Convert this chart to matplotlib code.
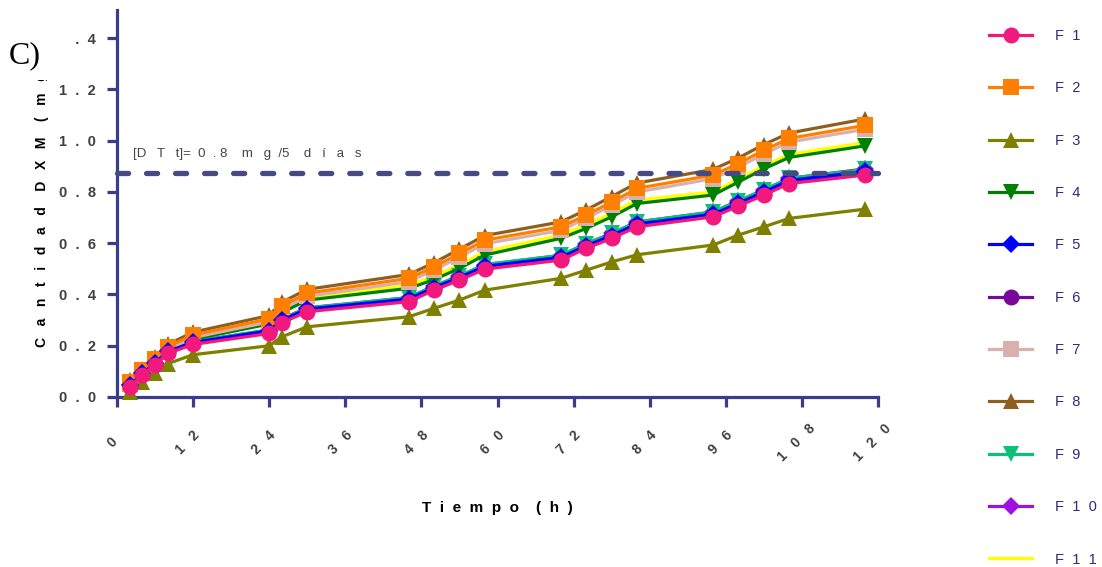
import matplotlib
matplotlib.use("Agg")
import matplotlib.pyplot as plt
from matplotlib.transforms import ScaledTranslation
from matplotlib.patches import Rectangle

# tiempo de muestreo (h)
tiempo = [2, 4, 6, 8, 12, 24, 26, 30, 46, 50, 54, 58, 70, 74, 78, 82, 94, 98, 102, 106, 118]

F1 = [0.040, 0.086, 0.125, 0.170, 0.205, 0.248, 0.290, 0.333, 0.372, 0.417, 0.456, 0.499, 0.534, 0.580, 0.619, 0.664, 0.703, 0.745, 0.788, 0.833, 0.866]
F2 = [0.060, 0.105, 0.150, 0.196, 0.242, 0.305, 0.355, 0.405, 0.463, 0.508, 0.560, 0.612, 0.664, 0.710, 0.761, 0.814, 0.866, 0.911, 0.963, 1.009, 1.060]
F3 = [0.020, 0.060, 0.095, 0.130, 0.165, 0.200, 0.235, 0.274, 0.313, 0.346, 0.378, 0.417, 0.463, 0.495, 0.527, 0.555, 0.593, 0.632, 0.664, 0.697, 0.733]
F4 = [0.050, 0.095, 0.140, 0.185, 0.225, 0.285, 0.330, 0.378, 0.424, 0.458, 0.502, 0.554, 0.619, 0.658, 0.703, 0.755, 0.788, 0.839, 0.890, 0.935, 0.980]
F5 = [0.045, 0.092, 0.132, 0.178, 0.213, 0.258, 0.300, 0.343, 0.382, 0.427, 0.466, 0.510, 0.545, 0.590, 0.630, 0.675, 0.713, 0.756, 0.800, 0.845, 0.880]
F6 = [0.042, 0.089, 0.128, 0.174, 0.209, 0.253, 0.295, 0.338, 0.377, 0.422, 0.461, 0.504, 0.540, 0.585, 0.625, 0.670, 0.708, 0.750, 0.793, 0.838, 0.872]
F7 = [0.052, 0.095, 0.140, 0.185, 0.232, 0.293, 0.343, 0.393, 0.450, 0.495, 0.546, 0.598, 0.650, 0.697, 0.748, 0.800, 0.852, 0.897, 0.948, 0.995, 1.045]
F8 = [0.065, 0.110, 0.158, 0.205, 0.253, 0.318, 0.370, 0.420, 0.478, 0.524, 0.577, 0.630, 0.683, 0.730, 0.782, 0.835, 0.888, 0.933, 0.985, 1.030, 1.085]
F9 = [0.046, 0.093, 0.133, 0.179, 0.215, 0.261, 0.304, 0.347, 0.388, 0.433, 0.472, 0.517, 0.553, 0.598, 0.638, 0.683, 0.722, 0.765, 0.808, 0.853, 0.888]
F10 = [0.047, 0.094, 0.134, 0.180, 0.216, 0.262, 0.305, 0.348, 0.388, 0.433, 0.472, 0.516, 0.552, 0.598, 0.638, 0.683, 0.722, 0.765, 0.808, 0.853, 0.890]
F11 = [0.055, 0.100, 0.148, 0.192, 0.235, 0.295, 0.343, 0.390, 0.436, 0.470, 0.516, 0.567, 0.632, 0.672, 0.717, 0.768, 0.800, 0.850, 0.902, 0.947, 0.993]

nombres = ['F1', 'F2', 'F3', 'F4', 'F5', 'F6', 'F7', 'F8', 'F9', 'F10', 'F11']
series = [F1, F2, F3, F4, F5, F6, F7, F8, F9, F10, F11]
colores = ['#f2197e', '#ff7f00', '#808000', '#008000', '#0000ff', '#76089a',
           '#d8b0ae', '#8f5e1f', '#0cc07a', '#a010e0', '#ffff00']
marcadores = ['o', 's', '^', 'v', 'D', 'o', 's', '^', 'v', 'D', None]
orden = [10, 8, 6, 4, 9, 7, 5, 2, 3, 1, 0]  # mayor = encima

dtt = 0.875  # linea de dosis teorica
xticks = [0, 12, 24, 36, 48, 60, 72, 84, 96, 108, 120]
yticks = [0.0, 0.2, 0.4, 0.6, 0.8, 1.0, 1.2, 1.4]

axis_col = '#3b3d8c'
plt.rcParams['font.family'] = ['Liberation Sans', 'DejaVu Sans']

fig = plt.figure(figsize=(11.02, 5.67), dpi=100)
ax = fig.add_axes([117/1102, 1-397/567, 761/1102, 387/567])

lineas = []
for i in range(len(series)):
    ms = 9 if marcadores[i] == 'D' else 11.5
    l, = ax.plot(tiempo, series[i], color=colores[i], marker=marcadores[i], markersize=ms,
                 linewidth=2.3, markeredgewidth=0, clip_on=False, zorder=3 + orden[i]*0.1,
                 label=nombres[i])
    lineas.append(l)

ax.plot([0, 120], [dtt, dtt], color='#454a82', linewidth=3.8, dashes=(2.1, 3.4),
        dash_capstyle='round', zorder=10, clip_on=False)
ax.text(2.5, 0.95, "[D   T   t]=  0  . 8    m   g  /5    d   í   a   s", fontsize=9.5,
        color='#444444', va='center', ha='left')

ax.set_xlim(0, 120)
ax.set_ylim(0, 1.51)
ax.set_xticks(xticks)
ax.set_yticks(yticks)
ax.set_xticklabels(["   ".join(str(v)) for v in xticks])
ax.set_yticklabels(["  ".join("%.1f" % v) for v in yticks])
for s in ['top', 'right']:
    ax.spines[s].set_visible(False)
for s in ['left', 'bottom']:
    ax.spines[s].set_color(axis_col)
    ax.spines[s].set_linewidth(2.3)
ax.tick_params(axis='both', color=axis_col, width=2.3, length=7, labelcolor='#404040')
ax.tick_params(axis='y', pad=8, labelsize=10.5)
ax.tick_params(axis='x', pad=26, labelsize=10)
for lbl in ax.get_yticklabels():
    lbl.set_fontweight('bold')
off = ScaledTranslation(-5/100, 0, fig.dpi_scale_trans)
for lbl in ax.get_xticklabels():
    lbl.set_fontweight('bold')
    lbl.set_rotation(45)
    lbl.set_rotation_mode('anchor')
    lbl.set_ha('center')
    lbl.set_va('center')
    lbl.set_transform(lbl.get_transform() + off)

xl = "    ".join("  ".join(w) for w in "Tiempo (h)".split())
fig.text(497/1102, 1-508/567, xl, fontsize=11, fontweight='bold', ha='center', va='center')
yl = "    ".join("   ".join(w) for w in "Cantidad DXM (mg)".split())
fig.text(42/1102, 1-347/567, yl, fontsize=10, fontweight='bold', rotation=90,
         ha='center', va='bottom')

# recuadro blanco del panel
fig.add_artist(Rectangle((0, 1-80/567), 70/1102, 80/567, transform=fig.transFigure,
                         facecolor='white', edgecolor='none', zorder=20))
fig.text(9/1102, 1-56/567, "C)", fontsize=23, family='Liberation Serif', va='center',
         ha='left', zorder=21)

fig.legend(handles=lineas, labels=["F  " + "  ".join(n[1:]) for n in nombres],
           loc='upper left', bbox_to_anchor=(989/1102, 1-29/567), frameon=False,
           borderpad=0, borderaxespad=0, handlelength=2.95, handletextpad=1.6,
           labelspacing=2.63, fontsize=10.5, labelcolor='#2b2b80')

fig.savefig('out.png', dpi=100)
